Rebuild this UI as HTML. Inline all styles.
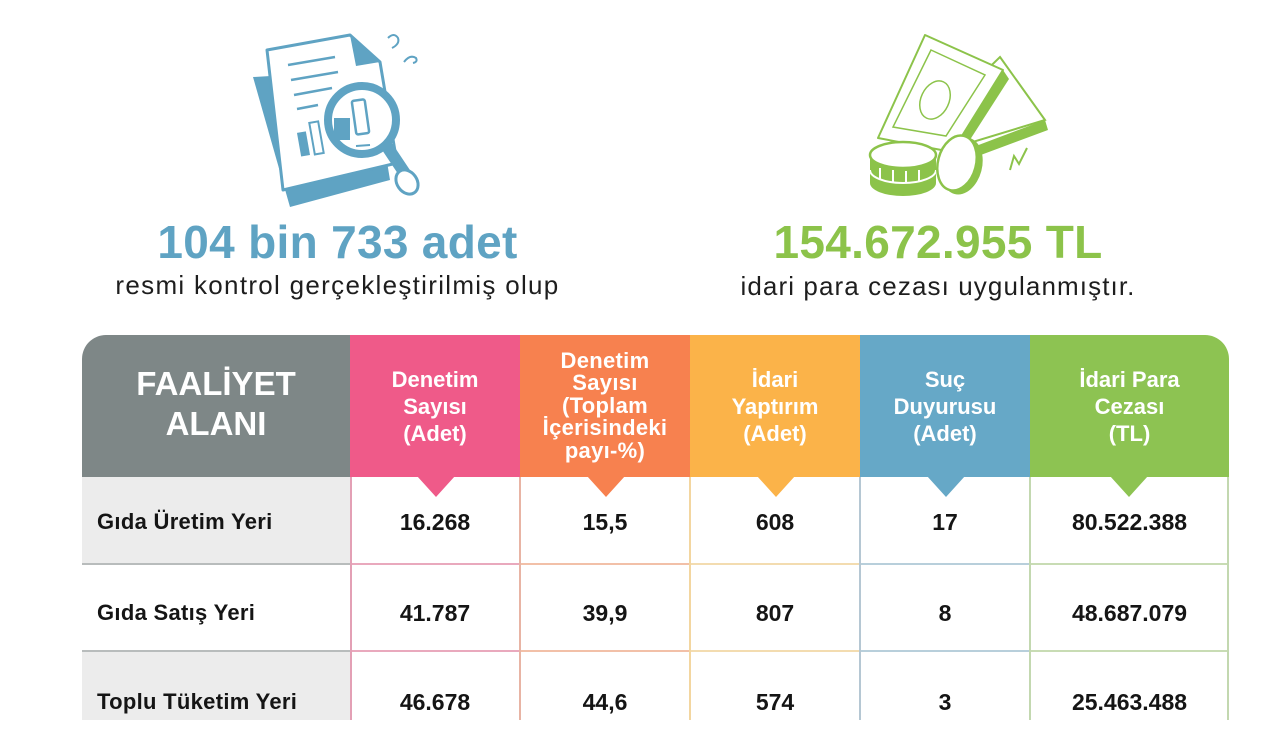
<!DOCTYPE html>
<html>
<head>
<meta charset="utf-8">
<style>
  html,body{margin:0;padding:0;}
  body{width:1280px;height:720px;overflow:hidden;background:#fff;position:relative;font-family:"Liberation Sans",sans-serif;}
  .abs{position:absolute;}
  .big{position:absolute;font-weight:bold;font-size:46px;text-align:center;line-height:50px;letter-spacing:0.3px;}
  .sub{position:absolute;font-size:26px;text-align:center;line-height:30px;color:#1e1e1e;}
  .hd{position:absolute;top:335px;height:142px;color:#fff;font-weight:bold;display:flex;align-items:center;justify-content:center;text-align:center;}
  .tri{position:absolute;top:476px;width:0;height:0;border-left:19px solid transparent;border-right:19px solid transparent;border-top:21px solid;}
  .cell{position:absolute;display:flex;align-items:center;justify-content:center;font-weight:bold;font-size:23px;color:#151515;box-sizing:border-box;}
  .lab{position:absolute;left:82px;width:268px;display:flex;align-items:center;padding-left:15px;box-sizing:border-box;font-weight:bold;font-size:22px;color:#151515;letter-spacing:0.3px;}
</style>
</head>
<body>

<!-- document icon -->
<svg class="abs" style="left:240px;top:20px" width="200" height="200" viewBox="240 20 200 200">
  <polygon points="253,77 290,207 390,180 372,70" fill="#5fa3c3"/>
  <polygon points="267,50 350,35 380,62 397,163 283,190" fill="#fff" stroke="#5fa3c3" stroke-width="3" stroke-linejoin="round"/>
  <polygon points="350,35 380,62 356,66" fill="#5fa3c3"/>
  <line x1="288" y1="65" x2="335" y2="57" stroke="#5fa3c3" stroke-width="2.5"/>
  <line x1="291" y1="80" x2="338" y2="72" stroke="#5fa3c3" stroke-width="2.5"/>
  <line x1="294" y1="95" x2="332" y2="88" stroke="#5fa3c3" stroke-width="2.5"/>
  <line x1="297" y1="109" x2="318" y2="105" stroke="#5fa3c3" stroke-width="2.5"/>
  <rect x="299" y="132" width="9" height="24" fill="#5fa3c3" transform="rotate(-10 303 144)"/>
  <rect x="312" y="122" width="9" height="32" fill="#fff" stroke="#5fa3c3" stroke-width="2" transform="rotate(-10 316 138)"/>
  <line x1="388" y1="148" x2="408" y2="178" stroke="#5fa3c3" stroke-width="12" stroke-linecap="round"/>
  <ellipse cx="407" cy="182" rx="10" ry="13" fill="#fff" stroke="#5fa3c3" stroke-width="3" transform="rotate(-35 407 182)"/>
  <circle cx="362" cy="120" r="34" fill="#fff" stroke="#5fa3c3" stroke-width="8"/>
  <rect x="334" y="118" width="16" height="22" fill="#5fa3c3"/>
  <rect x="354" y="100" width="13" height="34" rx="2" fill="#fff" stroke="#5fa3c3" stroke-width="2.5" transform="rotate(-8 360 117)"/>
  <line x1="356" y1="146" x2="370" y2="145" stroke="#5fa3c3" stroke-width="2"/>
  <path d="M388,38 q6,-6 10,0 q2,6 -6,10" fill="none" stroke="#5fa3c3" stroke-width="2"/>
  <path d="M404,62 q6,-8 12,-4 q2,4 -3,5" fill="none" stroke="#5fa3c3" stroke-width="2"/>
</svg>

<!-- money icon -->
<svg class="abs" style="left:840px;top:20px" width="220" height="200" viewBox="840 20 220 200">
  <polygon points="1000,57 1045,120 953,148 935,120" fill="#fff" stroke="#8cc34a" stroke-width="2"/>
  <polygon points="960,152 1045,120 1048,130 962,162" fill="#8cc34a"/>
  <polygon points="925,35 1003,70 952,152 878,138" fill="#fff" stroke="#8cc34a" stroke-width="2" stroke-linejoin="round"/>
  <polygon points="1003,70 1009,79 957,160 952,152" fill="#8cc34a"/>
  <polygon points="931,50 985,75 946,136 893,127" fill="none" stroke="#8cc34a" stroke-width="1.5"/>
  <ellipse cx="935" cy="100" rx="14" ry="20" fill="none" stroke="#8cc34a" stroke-width="1.5" transform="rotate(25 935 100)"/>
  <path d="M870,155 v28 a33,13 0 0 0 66,0 v-28" fill="#8cc34a"/>
  <line x1="880" y1="168" x2="880" y2="180" stroke="#fff" stroke-width="2"/>
  <line x1="893" y1="170" x2="893" y2="182" stroke="#fff" stroke-width="2"/>
  <line x1="906" y1="171" x2="906" y2="183" stroke="#fff" stroke-width="2"/>
  <line x1="919" y1="170" x2="919" y2="182" stroke="#fff" stroke-width="2"/>
  <path d="M870,170 a33,13 0 0 0 66,0" fill="none" stroke="#fff" stroke-width="2"/>
  <ellipse cx="903" cy="155" rx="33" ry="13" fill="#fff" stroke="#8cc34a" stroke-width="2.5"/>
  <ellipse cx="962" cy="166" rx="20" ry="29" fill="#8cc34a" transform="rotate(15 962 166)"/>
  <ellipse cx="957" cy="163" rx="19" ry="28" fill="#fff" stroke="#8cc34a" stroke-width="2.5" transform="rotate(15 957 163)"/>
  <path d="M1010,170 l4,-14 l5,8 l8,-16" fill="none" stroke="#8cc34a" stroke-width="2"/>
</svg>

<div class="big" style="left:100px;width:475px;top:217px;color:#5fa3c3;">104 bin 733 adet</div>
<div class="sub" style="left:80px;width:515px;top:270px;letter-spacing:1.3px;">resmi kontrol gerçekleştirilmiş olup</div>

<div class="big" style="left:700px;width:476px;top:217px;color:#8cc34a;">154.672.955 TL</div>
<div class="sub" style="left:680px;width:516px;top:271px;letter-spacing:1.1px;">idari para cezası uygulanmıştır.</div>

<!-- header -->
<div class="hd" style="left:82px;width:268px;background:#7e8787;border-top-left-radius:24px;font-size:33px;line-height:40px;padding-bottom:4px;box-sizing:border-box;">FAALİYET<br>ALANI</div>
<div class="hd" style="left:350px;width:170px;background:#ef5a89;font-size:22px;line-height:27px;">Denetim<br>Sayısı<br>(Adet)</div>
<div class="hd" style="left:520px;width:170px;background:#f7814f;font-size:22px;line-height:22.5px;letter-spacing:0.3px;">Denetim<br>Sayısı<br>(Toplam<br>İçerisindeki<br>payı-%)</div>
<div class="hd" style="left:690px;width:170px;background:#fbb349;font-size:22px;line-height:27px;">İdari<br>Yaptırım<br>(Adet)</div>
<div class="hd" style="left:860px;width:170px;background:#66a8c7;font-size:22px;line-height:27px;">Suç<br>Duyurusu<br>(Adet)</div>
<div class="hd" style="left:1030px;width:199px;background:#8dc352;border-top-right-radius:24px;font-size:22px;line-height:27px;">İdari Para<br>Cezası<br>(TL)</div>

<!-- first column backgrounds -->
<div class="abs" style="left:82px;top:477px;width:268px;height:86px;background:#ececec;"></div>
<div class="abs" style="left:82px;top:650px;width:268px;height:70px;background:#ececec;"></div>

<!-- grid lines -->
<div class="abs" style="left:82px;top:563px;width:268px;height:2px;background:#b8bcbc;"></div>
<div class="abs" style="left:82px;top:650px;width:268px;height:2px;background:#b8bcbc;"></div>
<div class="abs" style="left:350px;top:563px;width:170px;height:1.5px;background:#e9a9bd;"></div>
<div class="abs" style="left:350px;top:650px;width:170px;height:1.5px;background:#e9a9bd;"></div>
<div class="abs" style="left:520px;top:563px;width:170px;height:1.5px;background:#f2c0a8;"></div>
<div class="abs" style="left:520px;top:650px;width:170px;height:1.5px;background:#f2c0a8;"></div>
<div class="abs" style="left:690px;top:563px;width:170px;height:1.5px;background:#f3dcb0;"></div>
<div class="abs" style="left:690px;top:650px;width:170px;height:1.5px;background:#f3dcb0;"></div>
<div class="abs" style="left:860px;top:563px;width:170px;height:1.5px;background:#b8cfdb;"></div>
<div class="abs" style="left:860px;top:650px;width:170px;height:1.5px;background:#b8cfdb;"></div>
<div class="abs" style="left:1030px;top:563px;width:199px;height:1.5px;background:#c8dcb4;"></div>
<div class="abs" style="left:1030px;top:650px;width:199px;height:1.5px;background:#c8dcb4;"></div>

<div class="abs" style="left:350px;top:477px;width:1.5px;height:243px;background:#e3a0b5;"></div>
<div class="abs" style="left:519px;top:477px;width:1.5px;height:243px;background:#e8b4a4;"></div>
<div class="abs" style="left:689px;top:477px;width:1.5px;height:243px;background:#f3d6a0;"></div>
<div class="abs" style="left:859px;top:477px;width:1.5px;height:243px;background:#b5c7d3;"></div>
<div class="abs" style="left:1029px;top:477px;width:1.5px;height:243px;background:#c3d8b0;"></div>
<div class="abs" style="left:1227px;top:477px;width:1.5px;height:243px;background:#c3d8b0;"></div>

<!-- triangles -->
<div class="tri" style="left:417px;border-top-color:#ef5a89;"></div>
<div class="tri" style="left:587px;border-top-color:#f7814f;"></div>
<div class="tri" style="left:757px;border-top-color:#fbb349;"></div>
<div class="tri" style="left:927px;border-top-color:#66a8c7;"></div>
<div class="tri" style="left:1110px;border-top-color:#8dc352;"></div>

<!-- row labels -->
<div class="lab" style="top:477px;height:90px;">Gıda Üretim Yeri</div>
<div class="lab" style="top:565px;height:96px;">Gıda Satış Yeri</div>
<div class="lab" style="top:652px;height:100px;">Toplu Tüketim Yeri</div>

<!-- row 1 -->
<div class="cell" style="left:350px;width:170px;top:477px;height:90px;">16.268</div>
<div class="cell" style="left:520px;width:170px;top:477px;height:90px;">15,5</div>
<div class="cell" style="left:690px;width:170px;top:477px;height:90px;">608</div>
<div class="cell" style="left:860px;width:170px;top:477px;height:90px;">17</div>
<div class="cell" style="left:1030px;width:199px;top:477px;height:90px;">80.522.388</div>
<!-- row 2 -->
<div class="cell" style="left:350px;width:170px;top:565px;height:96px;">41.787</div>
<div class="cell" style="left:520px;width:170px;top:565px;height:96px;">39,9</div>
<div class="cell" style="left:690px;width:170px;top:565px;height:96px;">807</div>
<div class="cell" style="left:860px;width:170px;top:565px;height:96px;">8</div>
<div class="cell" style="left:1030px;width:199px;top:565px;height:96px;">48.687.079</div>
<!-- row 3 -->
<div class="cell" style="left:350px;width:170px;top:652px;height:100px;">46.678</div>
<div class="cell" style="left:520px;width:170px;top:652px;height:100px;">44,6</div>
<div class="cell" style="left:690px;width:170px;top:652px;height:100px;">574</div>
<div class="cell" style="left:860px;width:170px;top:652px;height:100px;">3</div>
<div class="cell" style="left:1030px;width:199px;top:652px;height:100px;">25.463.488</div>

</body>
</html>
